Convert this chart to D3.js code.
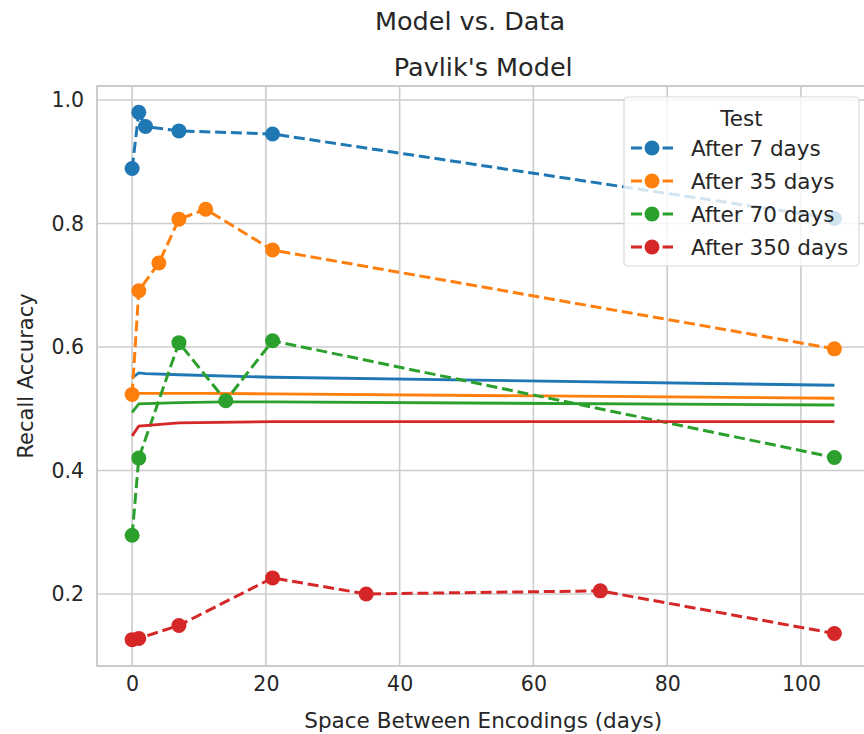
<!DOCTYPE html>
<html>
<head>
<meta charset="utf-8">
<script src="https://cdn.jsdelivr.net/npm/d3@7"></script>
<style>
  html, body { margin: 0; padding: 0; background: #ffffff; }
  svg { display: block; }
  text { font-family: "DejaVu Sans", sans-serif; fill: #262626; }
</style>
</head>
<body>
<svg id="chart" width="864" height="734"></svg>
<script>
// Recall accuracy measured after each retention interval
const testLabels = ["After 7 days", "After 35 days", "After 70 days", "After 350 days"];
const colors = ["#1f77b4", "#ff7f0e", "#2ca02c", "#d62728"];

const days7   = [0, 1, 2, 7, 21, 105];
const days35  = [0, 1, 4, 7, 11, 21, 105];
const days70  = [0, 1, 7, 14, 21, 105];
const days350 = [0, 1, 7, 21, 35, 70, 105];

// observed accuracy (dashed, with markers)
const data7   = [0.889, 0.980, 0.957, 0.950, 0.945, 0.808];
const data35  = [0.523, 0.691, 0.736, 0.807, 0.823, 0.757, 0.597];
const data70  = [0.295, 0.420, 0.607, 0.513, 0.610, 0.421];
const data350 = [0.126, 0.128, 0.149, 0.226, 0.200, 0.205, 0.136];

// Pavlik model predictions (solid)
const model7   = [0.550, 0.558, 0.557, 0.555, 0.551, 0.538];
const model35  = [0.520, 0.525, 0.525, 0.525, 0.525, 0.524, 0.517];
const model70  = [0.494, 0.508, 0.510, 0.511, 0.511, 0.506];
const model350 = [0.456, 0.472, 0.477, 0.479, 0.479, 0.479, 0.479];

const xTicks = [0, 20, 40, 60, 80, 100];
const yTicks = [0.2, 0.4, 0.6, 0.8, 1.0];

const series = [
  { days: days7,   data: data7,   model: model7 },
  { days: days35,  data: data35,  model: model35 },
  { days: days70,  data: data70,  model: model70 },
  { days: days350, data: data350, model: model350 }
].map((s, i) => ({
  label: testLabels[i],
  color: colors[i],
  obs: s.days.map((d, j) => [d, s.data[j]]),
  fit: s.days.map((d, j) => [d, s.model[j]])
}));

const svg = d3.select("#chart");
const plot = { left: 97, right: 869.5, top: 86, bottom: 666 };

// autoscale with 5% margins
const pad = ([a, b]) => { const m = (b - a) * 0.05; return [a - m, b + m]; };
const allPts = series.flatMap(s => s.obs.concat(s.fit));
const x = d3.scaleLinear().domain(pad(d3.extent(allPts, p => p[0]))).range([plot.left, plot.right]);
const y = d3.scaleLinear().domain(pad(d3.extent(allPts, p => p[1]))).range([plot.bottom, plot.top]);

svg.append("clipPath").attr("id", "plotClip")
  .append("rect").attr("x", plot.left).attr("y", plot.top)
  .attr("width", plot.right - plot.left).attr("height", plot.bottom - plot.top);

// grid
const grid = svg.append("g").attr("stroke", "#cccccc").attr("stroke-width", 1.6);
grid.selectAll("line.gx").data(xTicks).join("line")
  .attr("x1", d => x(d)).attr("x2", d => x(d))
  .attr("y1", plot.top).attr("y2", plot.bottom);
grid.selectAll("line.gy").data(yTicks).join("line")
  .attr("x1", plot.left).attr("x2", plot.right)
  .attr("y1", d => y(d)).attr("y2", d => y(d));

// spines
svg.append("rect")
  .attr("x", plot.left).attr("y", plot.top)
  .attr("width", plot.right - plot.left).attr("height", plot.bottom - plot.top)
  .attr("fill", "none").attr("stroke", "#cccccc").attr("stroke-width", 2);

// axes (tick labels only, no tick marks)
const xAxis = svg.append("g").attr("transform", `translate(0,${plot.bottom})`)
  .call(d3.axisBottom(x).tickValues(xTicks).tickFormat(d3.format("d")).tickSize(0).tickPadding(10));
const yAxis = svg.append("g").attr("transform", `translate(${plot.left},0)`)
  .call(d3.axisLeft(y).tickValues(yTicks).tickFormat(d3.format(".1f")).tickSize(0).tickPadding(13));
[xAxis, yAxis].forEach(a => {
  a.select(".domain").remove();
  a.selectAll("text").attr("font-size", 20.5).attr("fill", "#262626")
    .style("font-family", "DejaVu Sans, sans-serif");
});

const line = d3.line().x(p => x(p[0])).y(p => y(p[1]));
const marks = svg.append("g").attr("clip-path", "url(#plotClip)");

series.forEach(s => {
  const g = marks.append("g");
  g.append("path").datum(s.obs)
    .attr("d", line).attr("fill", "none")
    .attr("stroke", s.color).attr("stroke-width", 3)
    .attr("stroke-dasharray", "11,4.8");
  g.selectAll("circle").data(s.obs).join("circle")
    .attr("cx", p => x(p[0])).attr("cy", p => y(p[1])).attr("r", 7.5)
    .attr("fill", s.color);
  g.append("path").datum(s.fit)
    .attr("d", line).attr("fill", "none")
    .attr("stroke", s.color).attr("stroke-width", 2.8);
});

// titles and axis labels
svg.append("text").attr("x", 470).attr("y", 30).attr("text-anchor", "middle")
  .attr("font-size", 25.5).text("Model vs. Data");
svg.append("text").attr("x", (plot.left + plot.right) / 2).attr("y", 76).attr("text-anchor", "middle")
  .attr("font-size", 25.5).text("Pavlik's Model");
svg.append("text").attr("x", (plot.left + plot.right) / 2).attr("y", 728).attr("text-anchor", "middle")
  .attr("font-size", 21.5).text("Space Between Encodings (days)");
svg.append("text")
  .attr("transform", `translate(33,${(plot.top + plot.bottom) / 2}) rotate(-90)`)
  .attr("text-anchor", "middle").attr("font-size", 21).text("Recall Accuracy");

// legend
const lg = svg.append("g");
lg.append("rect").attr("x", 624).attr("y", 97).attr("width", 235).attr("height", 169)
  .attr("rx", 4).attr("fill", "#ffffff").attr("fill-opacity", 0.8)
  .attr("stroke", "#d9d9d9").attr("stroke-width", 1.2);
lg.append("text").attr("x", 741.5).attr("y", 126).attr("text-anchor", "middle")
  .attr("font-size", 21.5).text("Test");
series.forEach((s, i) => {
  const cy = 148 + i * 33;
  lg.append("line").attr("x1", 631).attr("x2", 673).attr("y1", cy).attr("y2", cy)
    .attr("stroke", s.color).attr("stroke-width", 3).attr("stroke-dasharray", "11,4.8");
  lg.append("circle").attr("cx", 652).attr("cy", cy).attr("r", 7.5).attr("fill", s.color);
  lg.append("text").attr("x", 691).attr("y", cy + 8).attr("font-size", 21.5).text(s.label);
});
</script>
</body>
</html>
